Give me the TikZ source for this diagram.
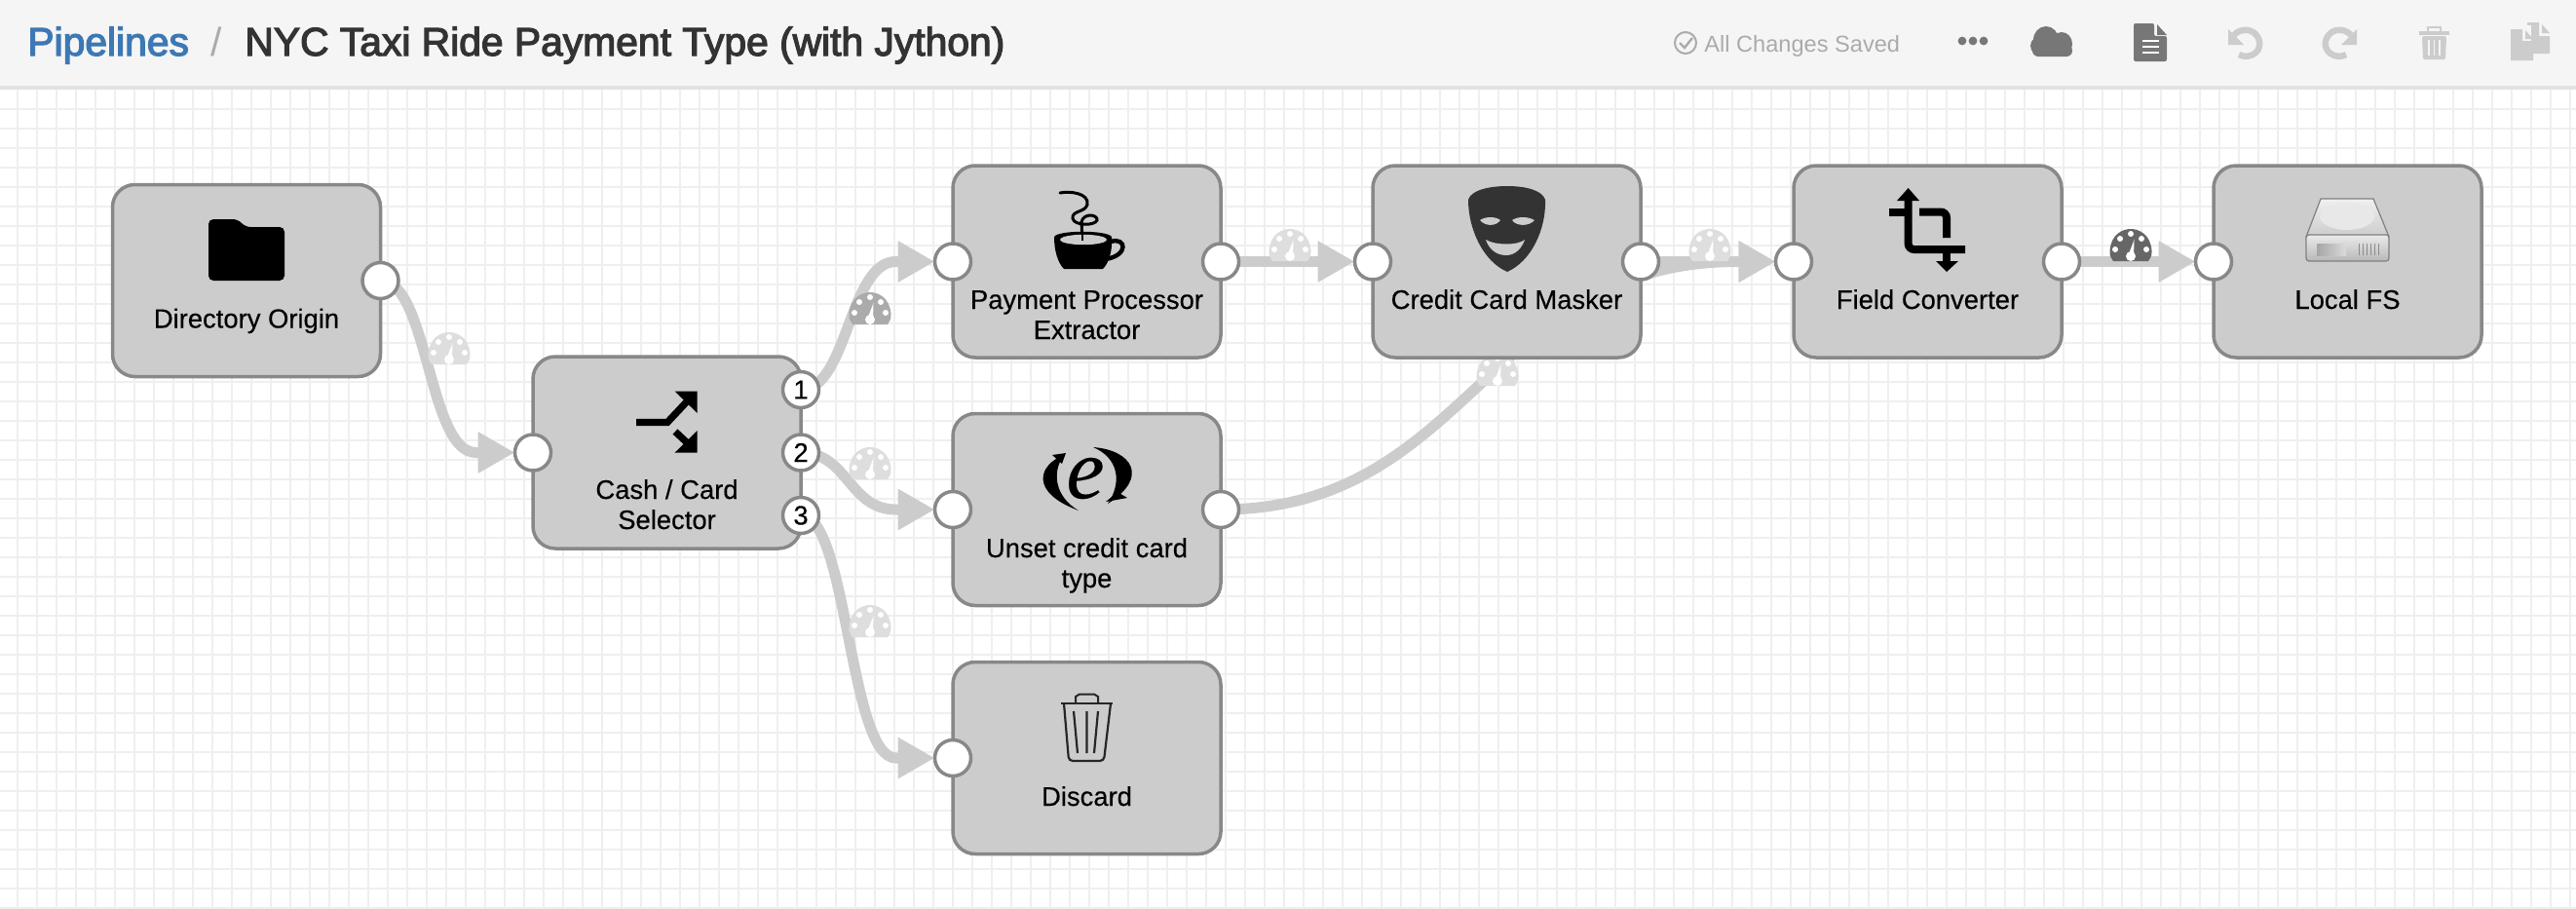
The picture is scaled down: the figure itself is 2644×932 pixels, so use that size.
\documentclass[tikz,border=0pt]{standalone}
\usepackage{fontspec}
\setmainfont{Liberation Sans}
\newfontfamily\titlefont[FakeBold=3]{Liberation Sans}
\newfontfamily\lblfont[FakeBold=0.3]{Liberation Sans}
\newfontfamily\serifit[FakeBold=0.2]{Liberation Serif Italic}
\usetikzlibrary{arrows.meta,shapes.geometric}
\definecolor{gridc}{HTML}{EFEFEF}
\definecolor{barc}{HTML}{F5F5F5}
\definecolor{barl}{HTML}{E2E2E2}
\definecolor{stagefill}{HTML}{CCCCCC}
\definecolor{stageline}{HTML}{888888}
\definecolor{conn}{HTML}{CCCCCC}
\definecolor{pale}{HTML}{DEDEDE}
\definecolor{midg}{HTML}{ABABAB}
\definecolor{darkg}{HTML}{666666}
\definecolor{iconon}{HTML}{777777}
\definecolor{iconoff}{HTML}{CCCCCC}
\definecolor{crumbblue}{HTML}{3D78B4}
\pgfdeclarelayer{bg}
\pgfdeclarelayer{wires}
\pgfsetlayers{bg,wires,main}
\tikzset{
  stage/.style={draw=stageline,fill=stagefill,line width=1.75pt,rounded corners=11.5pt,
    minimum width=137.5pt,minimum height=98.5pt,inner sep=0pt,outer sep=0pt},
  port/.style={circle,draw=stageline,fill=white,line width=1.75pt,minimum size=18.5pt,
    inner sep=0pt,outer sep=0pt,font=\lblfont\fontsize{13.7}{15.5}\selectfont},
  lbl/.style={anchor=base,align=center,inner sep=0pt,font=\lblfont\fontsize{13.7}{15.5}\selectfont,text=black},
  wire/.style={draw=conn,line width=5.5pt,-{Triangle[length=19pt,width=20pt,fill=conn]}},
  gauge/.pic={
    \fill[#1] (-18,0) .. controls (-22,-6) and (-22,-8) .. (-21.5,-11)
      .. controls (-20,-28) and (-8,-33) .. (0,-33)
      .. controls (8,-33) and (20,-28) .. (21.5,-11)
      .. controls (22,-8) and (22,-6) .. (18,0) -- cycle;
    \fill[white] (-16,-12) circle[radius=1.5pt] (-11,-23) circle[radius=1.5pt]
      (0,-28) circle[radius=1.5pt] (11,-23) circle[radius=1.5pt] (16,-12) circle[radius=1.5pt]
      (0,-5) circle[radius=2.5pt];
    \fill[white] (-3,-5) -- (3.5,-22) -- (3,-5) -- cycle;
  }
}
\begin{document}
\begin{tikzpicture}[x=0.5pt,y=-0.5pt]
\useasboundingbox (0,0) rectangle (2644,932);
\begin{pgfonlayer}{bg}
  \fill[white] (0,0) rectangle (2644,932);
  \foreach \gx in {18,38,...,2638} \draw[gridc,line width=1pt] (\gx,92) -- (\gx,932);
  \foreach \gy in {112,132,...,932} \draw[gridc,line width=1pt] (0,\gy) -- (2644,\gy);
  \fill[barc] (0,0) rectangle (2644,88);
  \fill[barl] (0,88) rectangle (2644,92);
\end{pgfonlayer}

% header text
\node[anchor=base west,inner sep=0pt,text=crumbblue,font=\titlefont\fontsize{20.4}{24}\selectfont] (crumb) at (28,57) {Pipelines};
\node[anchor=base,inner sep=0pt,text=midg,font=\fontsize{20.4}{24}\selectfont] (slash) at (222,57) {/};
\node[anchor=base west,inner sep=0pt,text=black!80,font=\titlefont\fontsize{20.4}{24}\selectfont] (title) at (251,57) {NYC Taxi Ride Payment Type (with Jython)};
\node[anchor=base west,inner sep=0pt,text=midg,font=\fontsize{11.8}{14}\selectfont] (saved) at (1749,53) {All Changes Saved};
% status tick
\draw[midg,line width=1pt] (1730,44) circle[radius=5.5pt];
\draw[midg,line width=1.2pt] (1724,44) -- (1729,49) -- (1737,39);
% dots
\fill[iconon] (2014,42) circle[radius=2.2pt] (2025,42) circle[radius=2.2pt] (2036,42) circle[radius=2.2pt];
% cloud
\fill[iconon] (2100,41) ellipse[x radius=6.5pt,y radius=7pt] (2116,45) ellipse[x radius=5.5pt,y radius=6pt] (2097,47) ellipse[x radius=6.5pt,y radius=5.5pt];
\fill[iconon,rounded corners=3pt] (2086,46) rectangle (2127,58);
% document
\fill[iconon,rounded corners=1pt] (2190,24) -- (2211,24) -- (2211,37) -- (2224,37) -- (2224,63) -- (2190,63) -- cycle;
\fill[iconon] (2214,25) -- (2224,36) -- (2214,36) -- cycle;
\draw[white,line width=1pt] (2199,42) -- (2216,42) (2199,48) -- (2216,48) (2199,54) -- (2216,54);
% undo / redo
\draw[iconoff,line width=3.2pt] (2293,36) .. controls (2298,30) and (2308,29) .. (2314,34)
  .. controls (2321,40) and (2321,50) .. (2314,55) .. controls (2310,58) and (2303,59) .. (2298,56);
\fill[iconoff] (2287,30) -- (2287,46) -- (2303,46) -- cycle;
\draw[iconoff,line width=3.2pt] (2413,36) .. controls (2408,30) and (2398,29) .. (2392,34)
  .. controls (2385,40) and (2385,50) .. (2392,55) .. controls (2396,58) and (2403,59) .. (2408,56);
\fill[iconoff] (2419,30) -- (2419,46) -- (2403,46) -- cycle;
% header trash
\draw[iconoff,line width=1pt] (2492,32) -- (2492,28) -- (2505,28) -- (2505,32);
\fill[iconoff] (2483,32) rectangle (2514,36);
\fill[iconoff,rounded corners=1pt] (2486,37) -- (2511,37) -- (2510,61) -- (2487,61) -- cycle;
\draw[barc,line width=.6pt] (2493,41) -- (2493,57) (2498.5,41) -- (2498.5,57) (2504,41) -- (2504,57);
% header copy
\fill[iconoff] (2594,23) -- (2606,23) -- (2606,37) -- (2617,37) -- (2617,55) -- (2594,55) -- cycle;
\fill[iconoff] (2609,25) -- (2617,34) -- (2609,34) -- cycle;
\fill[barc] (2590,26) rectangle (2598,60);
\fill[iconoff] (2577,30) -- (2589,30) -- (2589,42) -- (2600,42) -- (2600,62) -- (2577,62) -- cycle;
\fill[iconoff] (2592,31) -- (2600,40) -- (2592,40) -- cycle;

% stages
\node[stage] (origin)  at (253,288) {};
\node[stage] (selector) at (684.5,464.5) {};
\node[stage] (extract) at (1115.5,268.5) {};
\node[stage] (masker)  at (1546.5,268.5) {};
\node[stage] (convert) at (1978.5,268.5) {};
\node[stage] (localfs) at (2409.5,268.5) {};
\node[stage] (unset)   at (1115.5,523) {};
\node[stage] (discard) at (1115.5,778) {};

% ports
\node[port] (oOut) at (origin.east) {};
\node[port] (sIn) at (selector.west) {};
\node[port] (s1) at (822,400) {1};
\node[port] (s2) at (822,464.5) {2};
\node[port] (s3) at (822,529) {3};
\node[port] (eIn) at (extract.west) {};
\node[port] (eOut) at (extract.east) {};
\node[port] (mIn) at (masker.west) {};
\node[port] (mOut) at (masker.east) {};
\node[port] (cIn) at (convert.west) {};
\node[port] (cOut) at (convert.east) {};
\node[port] (lIn) at (localfs.west) {};
\node[port] (uIn) at (unset.west) {};
\node[port] (uOut) at (unset.east) {};
\node[port] (dIn) at (discard.west) {};

% connectors
\begin{pgfonlayer}{wires}
  \draw[wire] (oOut.center) .. controls +(49,0) and +(-49,0) .. ([xshift=-20pt]sIn.west) -- (sIn.west);
  \draw[wire] (s1.center) .. controls +(48,0) and +(-48,0) .. ([xshift=-20pt]eIn.west) -- (eIn.west);
  \draw[wire] (s2.center) .. controls +(48,0) and +(-48,0) .. ([xshift=-20pt]uIn.west) -- (uIn.west);
  \draw[wire] (s3.center) .. controls +(48,0) and +(-48,0) .. ([xshift=-20pt]dIn.west) -- (dIn.west);
  \draw[wire] (eOut.center) -- (mIn.west);
  \draw[wire] (mOut.center) -- (cIn.west);
  \draw[wire] (cOut.center) -- (lIn.west);
  \draw[wire] (uOut.center) .. controls +(255,0) and +(-255,0) .. ([xshift=-20pt]cIn.west) -- (cIn.west);
  \pic at (461,374) {gauge=pale};
  \pic at (893,333) {gauge=midg};
  \pic at (893,492) {gauge=pale};
  \pic at (893,654) {gauge=pale};
  \pic at (1324,268) {gauge=pale};
  \pic at (1755,268) {gauge=pale};
  \pic at (2187,268) {gauge=darkg};
  \pic at (1537,396) {gauge=pale};
\end{pgfonlayer}

% labels
\node[lbl] (t1) at (253,336.5) {Directory Origin};
\node[lbl] (t2) at (684.5,543) {Cash / Card\\Selector};
\node[lbl] (t3) at (1115.5,348) {Payment Processor\\Extractor};
\node[lbl] (t4) at (1546.5,317) {Credit Card Masker};
\node[lbl] (t5) at (1978.5,317) {Field Converter};
\node[lbl] (t6) at (2409.5,317) {Local FS};
\node[lbl] (t7) at (1115.5,603) {Unset credit card\\type};
\node[lbl] (t8) at (1115.5,827) {Discard};

% folder icon
\fill[black,rounded corners=2.5pt] (214,225) -- (244,225) -- (252,233) -- (292,233) -- (292,288) -- (214,288) -- cycle;
% shuffle icon
\draw[black,line width=3.6pt] (653,433.5) -- (685,433.5) -- (708,409);
\fill[black] (692.7,401.7) -- (715.7,401.7) -- (715.7,424) -- cycle;
\draw[black,line width=3.6pt] (693,443) -- (708,457);
\fill[black] (692.7,464.5) -- (715.7,464.5) -- (715.7,442) -- cycle;
% java icon
\draw[black,line width=1.5pt,line cap=round] (1088,198) .. controls (1098,196) and (1118,198) .. (1116,210)
  .. controls (1114,218) and (1100,216) .. (1101,224) .. controls (1102,232) and (1124,232) .. (1126,226)
  .. controls (1127,220) and (1112,218) .. (1110,228) -- (1111,246);
\fill[black] (1082,243) .. controls (1086,236) and (1136,236) .. (1141,243)
  .. controls (1142,258) and (1138,270) .. (1132,276) -- (1092,276) .. controls (1086,270) and (1082,258) .. (1082,243) -- cycle;
\draw[black,line width=2.2pt] (1140,248) .. controls (1156,243) and (1159,262) .. (1135,266);
\fill[stagefill] (1112,246) ellipse[x radius=12pt,y radius=2.6pt];
\draw[black,line width=.8pt] (1111,232) -- (1111,247);
% mask icon
\fill[black!80] (1547,191) .. controls (1565,191) and (1583,195) .. (1586,205) .. controls (1587,235) and (1572,268) .. (1547,279)
  .. controls (1522,268) and (1507,235) .. (1507,205) .. controls (1510,195) and (1529,191) .. (1547,191) -- cycle;
\fill[stagefill] (1519,226) .. controls (1525,222) and (1535,222) .. (1540,226) .. controls (1536,232) and (1525,233) .. (1519,226) -- cycle;
\fill[stagefill] (1552,226) .. controls (1558,222) and (1568,222) .. (1575,226) .. controls (1570,232) and (1557,233) .. (1552,226) -- cycle;
\fill[stagefill] (1525,246) .. controls (1535,252) and (1558,252) .. (1565,246) .. controls (1562,255) and (1555,262) .. (1546,262) .. controls (1535,262) and (1528,255) .. (1525,246) -- cycle;
% crop icon
\draw[black,line width=4pt,rounded corners=3pt] (1958.6,205) -- (1958.6,256) -- (2017,256);
\fill[black] (1958.6,193) -- (1970,206) -- (1947,206) -- cycle;
\draw[black,line width=4pt] (1939,217.5) -- (1955,217.5);
\draw[black,line width=4pt,rounded corners=3pt] (1970,217.5) -- (1998,217.5) -- (1998,244);
\draw[black,line width=4pt] (1998,258) -- (1998,270);
\fill[black] (1998,279) -- (2010,268) -- (1987,268) -- cycle;
% drive icon
\shade[top color=black!6,bottom color=black!20,draw=black!50,line width=.6pt] (2382,204) -- (2436,204) -- (2452,243) -- (2367,243) -- cycle;
\fill[black!9] (2409,222) ellipse[x radius=14pt,y radius=7pt];
\shade[top color=black!8,bottom color=black!28,draw=black!50,line width=.6pt,rounded corners=1.5pt] (2367,241) rectangle (2452,268);
\shade[left color=black!35,right color=black!14] (2378,250) rectangle (2408,262);
\foreach \vx in {2421,2425,...,2443} \draw[black!45,line width=.5pt] (\vx,250) -- (\vx,262);
% express icon
\fill[black] (1092,467) .. controls (1066,477) and (1056,505) .. (1107,524) .. controls (1083,510) and (1079,485) .. (1092,467) -- cycle;
\fill[black] (1080,467) -- (1094,465) -- (1090,476) -- cycle;
\fill[black] (1122,459) .. controls (1162,462) and (1180,490) .. (1137,517) .. controls (1152,495) and (1148,470) .. (1122,459) -- cycle;
\fill[black] (1135,515) -- (1157,511) -- (1147,505) -- cycle;
\node[inner sep=0pt,text=black,font=\serifit\fontsize{44}{44}\selectfont] (expr) at (1114,491) {e};
% trash icon
\draw[black!85,line width=1pt] (1104,722) -- (1104,715) -- (1108,712.5) -- (1123,712.5) -- (1127,715) -- (1127,722);
\draw[black!85,line width=1.3pt] (1089,722) -- (1142,722);
\draw[black!85,line width=1.1pt,rounded corners=2pt] (1092,722) -- (1097,781) -- (1133,781) -- (1140,722);
\draw[black!85,line width=1.1pt] (1102,730) -- (1106,773) (1115.5,730) -- (1115.5,773) (1127,730) -- (1123,773);
\end{tikzpicture}
\end{document}
